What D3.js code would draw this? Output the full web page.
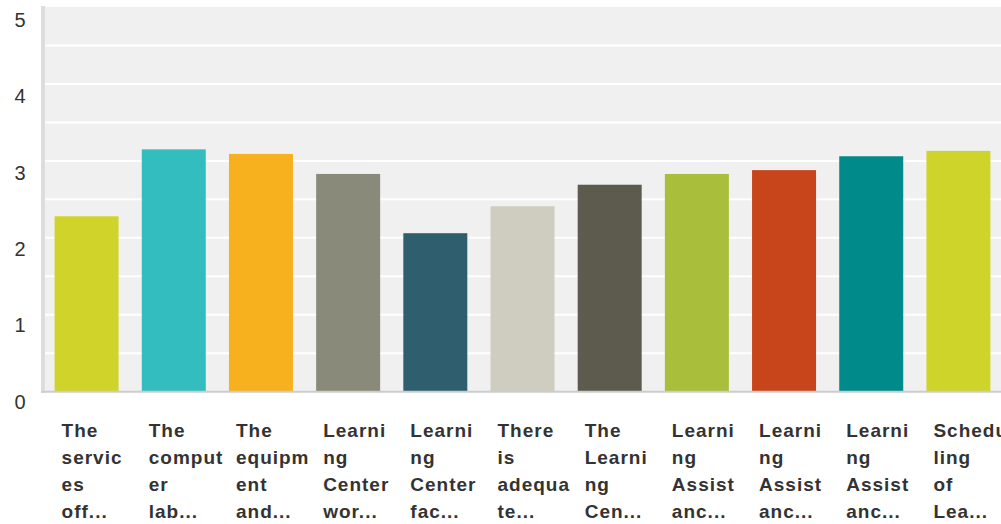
<!DOCTYPE html>
<html>
<head>
<meta charset="utf-8">
<script src="https://cdn.jsdelivr.net/npm/d3@7"></script>
<style>
  html, body { margin: 0; padding: 0; background: #fff; overflow: hidden; }
  svg { display: block; }
</style>
</head>
<body>
<svg id="chart" width="1001" height="524"></svg>
<script>
// ---- data ----
const categories = [
  "The services off...",
  "The computer lab...",
  "The equipment and...",
  "Learning Center wor...",
  "Learning Center fac...",
  "There is adequate...",
  "The Learning Cen...",
  "Learning Assistanc...",
  "Learning Assistanc...",
  "Learning Assistanc...",
  "Scheduling of Lea..."
];
const labelLines = [
  ["The", "servic", "es", "off..."],
  ["The", "comput", "er", "lab..."],
  ["The", "equipm", "ent", "and..."],
  ["Learni", "ng", "Center", "wor..."],
  ["Learni", "ng", "Center", "fac..."],
  ["There", "is", "adequa", "te..."],
  ["The", "Learni", "ng", "Cen..."],
  ["Learni", "ng", "Assist", "anc..."],
  ["Learni", "ng", "Assist", "anc..."],
  ["Learni", "ng", "Assist", "anc..."],
  ["Schedu", "ling", "of", "Lea..."]
];
const values = [2.28, 3.15, 3.09, 2.83, 2.06, 2.41, 2.69, 2.83, 2.88, 3.06, 3.13];
const colors = ["#d0d42a", "#33bdbf", "#f7b01e", "#8a8a7a", "#2f5f6e", "#cfcdbf",
                "#5c5b4d", "#a9be3a", "#c8451b", "#008a8a", "#cfd42a"];
const yTicks = [0, 1, 2, 3, 4, 5];
const gridValues = [0.5, 1, 1.5, 2, 2.5, 3, 3.5, 4, 4.5];

// ---- layout ----
const svg = d3.select("#chart");
const pLeft = 44, pRight = 1003, pTop = 7, pBottom = 391.7;

const x = d3.scaleBand().domain(d3.range(categories.length))
  .range([pLeft - 1, pRight - 1]).paddingInner(0.266).paddingOuter(0.133);
const y = d3.scaleLinear().domain([0, 5]).range([pBottom, pTop]);
const yLabel = d3.scaleLinear().domain([0, 5]).range([401.5, 20]);

// plot background
svg.append("rect").attr("x", pLeft).attr("y", pTop)
  .attr("width", pRight - pLeft).attr("height", pBottom - pTop).attr("fill", "#f0f0f0");

// gridlines
svg.append("g").selectAll("line").data(gridValues).join("line")
  .attr("x1", pLeft).attr("x2", pRight)
  .attr("y1", d => y(d)).attr("y2", d => y(d))
  .attr("stroke", "#ffffff").attr("stroke-width", 2);

// bars
svg.append("g").selectAll("rect").data(values).join("rect")
  .attr("x", (d, i) => x(i)).attr("width", x.bandwidth())
  .attr("y", d => y(d)).attr("height", d => y(0) - y(d))
  .attr("fill", (d, i) => colors[i]);

// axes lines
svg.append("line").attr("x1", 43).attr("x2", 43).attr("y1", pTop - 1).attr("y2", pBottom + 1)
  .attr("stroke", "#dddddd").attr("stroke-width", 4);
svg.append("line").attr("x1", 41).attr("x2", pRight).attr("y1", pBottom).attr("y2", pBottom)
  .attr("stroke", "#cccccc").attr("stroke-width", 2);

// y tick labels
svg.append("g").selectAll("text").data(yTicks).join("text")
  .attr("x", 20).attr("y", d => yLabel(d))
  .attr("dy", "0.35em").attr("text-anchor", "middle")
  .attr("font-family", "Liberation Sans, Arial, sans-serif")
  .attr("font-size", 20).attr("fill", "#333")
  .text(d => d);

// x labels
const xl = svg.append("g").selectAll("text").data(labelLines).join("text")
  .attr("font-family", "Liberation Sans, Arial, sans-serif")
  .attr("font-size", 19).attr("font-weight", "bold")
  .attr("letter-spacing", "1px").attr("fill", "#333");
xl.each(function(lines, i) {
  d3.select(this).selectAll("tspan").data(lines).join("tspan")
    .attr("x", x(i) + 7).attr("y", (d, j) => 436.5 + j * 27)
    .text(d => d);
});
</script>
</body>
</html>
